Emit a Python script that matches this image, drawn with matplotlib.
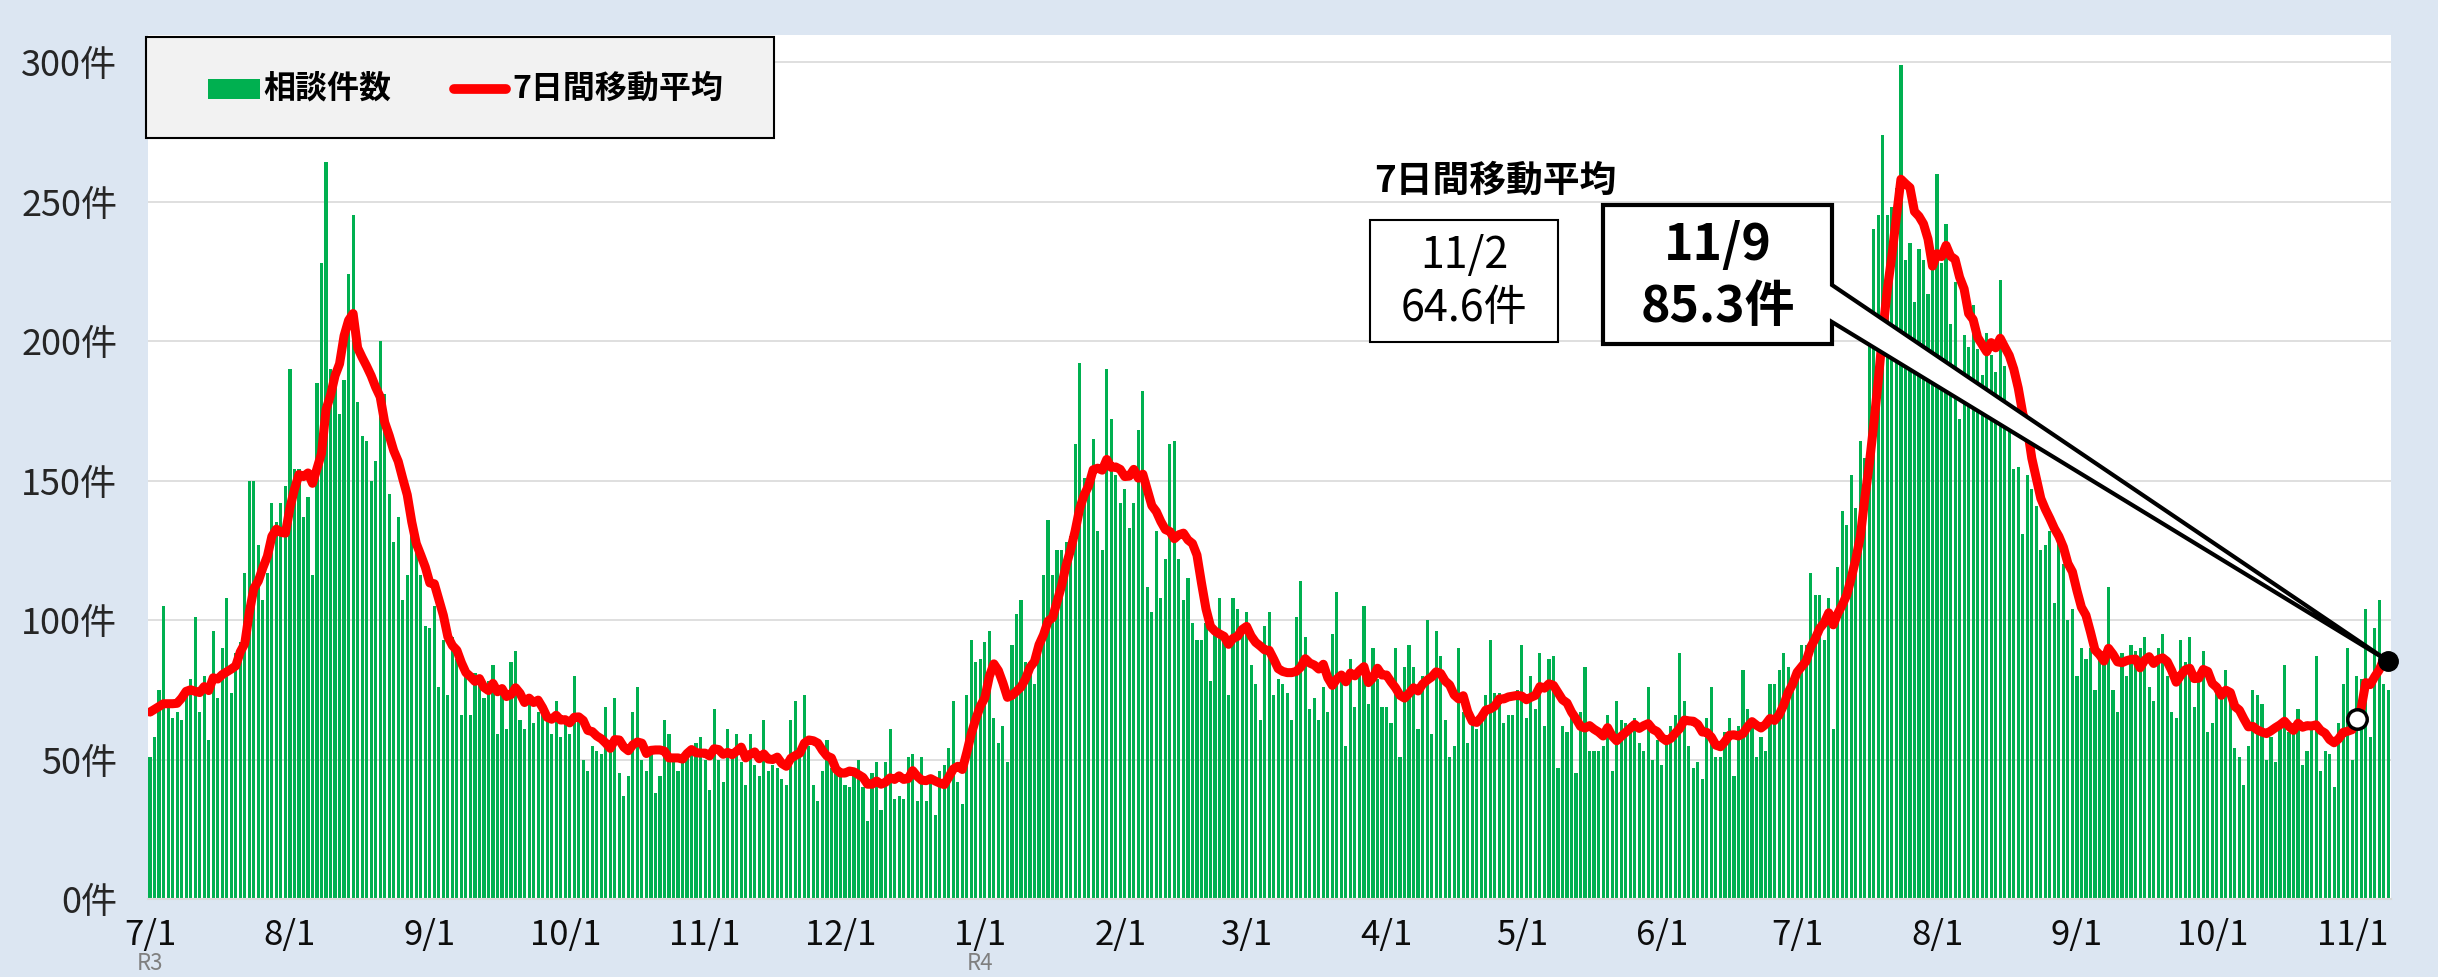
import matplotlib
matplotlib.use('Agg')
import matplotlib.pyplot as plt
from matplotlib.patches import Rectangle, Polygon
from matplotlib.lines import Line2D
import numpy as np
import pandas as pd

# 相談件数（日別） R3.7.1 ～ R4.11.9
jul21 = [51, 58, 75, 105, 70, 65, 67, 64, 75, 79, 101, 67, 80, 57, 96, 72, 90, 108, 74, 88, 92, 117, 150, 150, 127, 107, 117, 142, 135, 142, 148]
aug21 = [190, 154, 154, 137, 144, 116, 185, 228, 264, 190, 186, 174, 186, 224, 245, 178, 166, 164, 150, 157, 200, 181, 145, 128, 137, 107, 116, 132, 127, 116, 98]
sep21 = [97, 105, 76, 93, 73, 94, 86, 66, 80, 66, 81, 80, 72, 78, 84, 59, 74, 61, 85, 89, 64, 61, 70, 63, 67, 66, 65, 59, 71, 58]
oct21 = [64, 59, 80, 66, 50, 46, 55, 53, 52, 69, 53, 72, 45, 37, 44, 67, 76, 50, 46, 53, 38, 44, 64, 59, 50, 46, 50, 52, 54, 56, 58]
nov21 = [50, 39, 68, 50, 42, 61, 52, 59, 49, 41, 59, 48, 44, 64, 46, 48, 47, 43, 41, 64, 71, 52, 73, 55, 41, 35, 46, 57, 47, 45]
dec21 = [45, 41, 40, 44, 50, 40, 28, 45, 49, 32, 49, 61, 36, 37, 36, 51, 52, 35, 51, 35, 42, 30, 46, 48, 54, 71, 42, 34, 73, 93, 85]
jan22 = [86, 92, 96, 65, 56, 62, 49, 91, 102, 107, 85, 85, 77, 91, 116, 136, 116, 125, 125, 128, 130, 163, 192, 151, 148, 165, 132, 125, 190, 172, 152]
feb22 = [142, 147, 133, 142, 168, 182, 112, 103, 132, 108, 122, 163, 164, 122, 107, 115, 99, 93, 93, 99, 78, 95, 108, 93, 73, 108, 104, 95]
mar22 = [103, 84, 77, 64, 98, 103, 73, 79, 77, 74, 64, 101, 114, 94, 68, 72, 64, 76, 67, 95, 110, 78, 55, 86, 69, 80, 105, 70, 90, 79, 69]
apr22 = [69, 63, 90, 51, 83, 91, 83, 61, 80, 100, 59, 96, 87, 64, 51, 55, 90, 67, 56, 63, 61, 64, 73, 93, 74, 74, 63, 66, 66, 75]
may22 = [91, 65, 80, 68, 88, 62, 86, 87, 47, 62, 60, 65, 45, 67, 83, 53, 53, 53, 55, 66, 46, 71, 64, 63, 63, 65, 56, 53, 76, 50, 57]
jun22 = [48, 57, 62, 66, 88, 71, 55, 47, 49, 43, 65, 76, 51, 51, 60, 65, 44, 62, 82, 68, 64, 51, 58, 53, 77, 77, 82, 88, 83, 79]
jul22 = [83, 91, 91, 117, 109, 109, 93, 108, 61, 119, 139, 134, 152, 140, 164, 158, 205, 240, 245, 274, 245, 248, 255, 299, 229, 235, 214, 233, 229, 217, 231]
aug22 = [260, 228, 242, 206, 221, 172, 202, 198, 213, 197, 188, 203, 195, 189, 222, 191, 176, 154, 155, 131, 152, 147, 141, 125, 127, 132, 106, 132, 120, 100, 104]
sep22 = [80, 90, 86, 90, 75, 88, 88, 112, 75, 67, 88, 80, 91, 89, 90, 94, 76, 71, 90, 95, 80, 67, 65, 93, 85, 94, 69, 81, 89, 60]
oct22 = [63, 75, 74, 82, 75, 54, 51, 41, 55, 75, 73, 70, 50, 58, 49, 62, 84, 60, 60, 68, 48, 53, 61, 87, 46, 53, 52, 40, 63, 77, 90]
nov22 = [50, 80, 79, 104, 58, 97, 107, 77, 75]

# 7/1～7/6 の移動平均（6月分を含むためグラフから読み取り）
ma_head = [67, 68, 69, 70, 70, 70]

month_labels = ['7/1', '8/1', '9/1', '10/1', '11/1', '12/1', '1/1', '2/1', '3/1',
                '4/1', '5/1', '6/1', '7/1', '8/1', '9/1', '10/1', '11/1']
era_labels = {0: 'R3', 6: 'R4'}

months = [jul21, aug21, sep21, oct21, nov21, dec21, jan22, feb22, mar22,
          apr22, may22, jun22, jul22, aug22, sep22, oct22, nov22]
counts = np.concatenate(months).astype(float)
days = np.arange(len(counts))
tick_pos = np.concatenate([[0], np.cumsum([len(m) for m in months])[:-1]])

ma = pd.Series(counts).rolling(7).mean().to_numpy()
ma[:6] = ma_head

i_prev = tick_pos[-1] + 1   # 11/2
i_last = len(counts) - 1    # 11/9

W, H = 2438, 977
NARROW = ['Liberation Sans Narrow', 'Noto Sans CJK JP']
JP = ['Noto Sans CJK JP', 'DejaVu Sans']
plt.rcParams['font.family'] = NARROW

fig = plt.figure(figsize=(W / 100, H / 100), dpi=100, facecolor='#DCE6F2')
ax = fig.add_axes([148 / W, (H - 899) / H, (2391 - 148) / W, (899 - 35) / H])
ax.set_facecolor('white')

ax.bar(days, counts, width=0.7, color='#00B050', zorder=2)
ax.plot(days, ma, color='#FF0000', lw=6.5, solid_joinstyle='round',
        solid_capstyle='round', zorder=3)

ax.set_xlim(-0.45, len(counts) - 0.4)
ax.set_ylim(0, 309.7)
ax.set_yticks(np.arange(0, 301, 50))
ax.set_yticklabels([f'{v}件' for v in range(0, 301, 50)])
ax.set_xticks(tick_pos)
ax.set_xticklabels(month_labels)
ax.tick_params(axis='y', length=0, pad=22, labelsize=26, labelcolor='#262626')
ax.tick_params(axis='x', length=0, pad=14, labelsize=25, labelcolor='#0D0D0D')
ax.yaxis.grid(True, color='#D9D9D9', lw=1.2)
ax.set_axisbelow(True)
for s in ['top', 'right', 'left']:
    ax.spines[s].set_visible(False)
ax.spines['bottom'].set_color('#D9D9D9')
ax.spines['bottom'].set_linewidth(1.5)

# overlay in pixel coordinates for legend and callouts
ov = fig.add_axes([0, 0, 1, 1], zorder=5)
ov.set_xlim(0, W)
ov.set_ylim(H, 0)
ov.axis('off')


def to_px(x, y):
    dx, dy = ax.transData.transform((x, y))
    return dx, H - dy


for i, lab in era_labels.items():
    px, _ = to_px(tick_pos[i], 0)
    ov.text(px, 975, lab, ha='center', va='bottom', fontsize=16, color='#7F7F7F')

# legend
ov.add_patch(Rectangle((146, 37), 628, 101, fc='#F2F2F2', ec='black', lw=1.5))
ov.add_patch(Rectangle((208, 79), 52, 20, fc='#00B050', ec='none'))
ov.text(263, 89, '相談件数', fontsize=23, fontweight='bold', family=JP,
        va='center', ha='left')
ov.add_line(Line2D([454, 506], [89, 89], color='#FF0000', lw=7, solid_capstyle='round'))
ov.text(512, 89, '7日間移動平均', fontsize=23, fontweight='bold', family=JP,
        va='center', ha='left')

# annotation
ov.text(1495, 181, '7日間移動平均', fontsize=26.5, fontweight='bold', family=JP,
        ha='center', va='center')
ov.add_patch(Rectangle((1370, 220), 188, 122, fc='white', ec='black', lw=1.5))
ov.text(1464, 256, '11/2', fontsize=31, ha='center', va='center')
ov.text(1464, 309, '64.6件', fontsize=31, ha='center', va='center')

tx, ty = to_px(days[i_last], ma[i_last])
callout = Polygon([(1603, 205), (1832, 205), (1832, 285), (tx, ty), (1832, 322),
                   (1832, 344), (1603, 344)], closed=True, fc='white', ec='black',
                  lw=3, joinstyle='miter')
ov.add_patch(callout)
ov.text(1718, 245, '11/9', fontsize=36, fontweight='bold', ha='center', va='center')
ov.text(1718, 307, '85.3件', fontsize=36, fontweight='bold', ha='center', va='center')

px, py = to_px(days[i_prev], ma[i_prev])
ov.plot(px, py, 'o', ms=14, mfc='white', mec='black', mew=2.5)
ov.plot(tx, ty, 'o', ms=14, mfc='black', mec='black')

fig.savefig('out.png', dpi=100, facecolor=fig.get_facecolor())
